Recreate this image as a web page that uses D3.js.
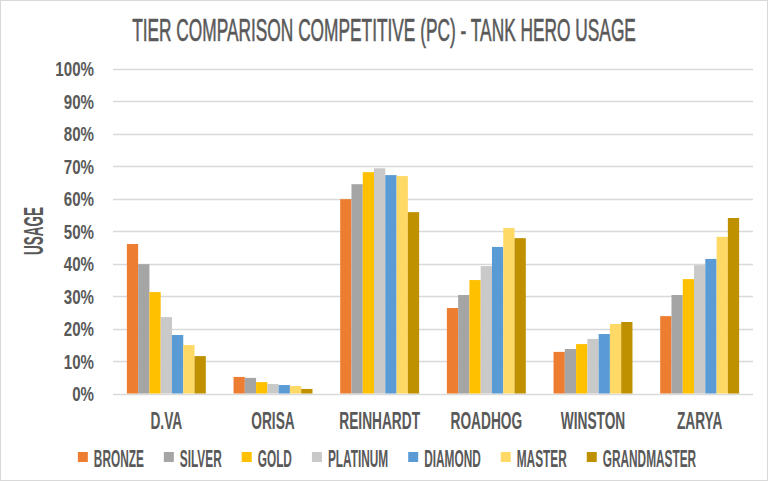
<!DOCTYPE html>
<html>
<head>
<meta charset="utf-8">
<script src="https://cdn.jsdelivr.net/npm/d3@7"></script>
<style>
  body { margin: 0; background: #fff; }
  text { font-family: "Liberation Sans", Arial, sans-serif; fill: #595959; }
</style>
</head>
<body>
<svg id="chart" width="768" height="481"></svg>
<script>
const heroes = ['D.VA', 'ORISA', 'REINHARDT', 'ROADHOG', 'WINSTON', 'ZARYA']
const tiers = ['BRONZE', 'SILVER', 'GOLD', 'PLATINUM', 'DIAMOND', 'MASTER', 'GRANDMASTER']
const tierColors = ['#ED7D31', '#A5A5A5', '#FFC000', '#C9C9C9', '#5B9BD5', '#FFD966', '#BF9000']
// usage % per tier, one array per hero
const dva       = [46.0, 39.8, 31.2, 23.5, 18.0, 14.9, 11.5]
const orisa     = [5.1, 4.8, 3.5, 2.9, 2.6, 2.3, 1.4]
const reinhardt = [59.8, 64.4, 68.1, 69.3, 67.2, 66.9, 55.8]
const roadhog   = [26.3, 30.3, 34.9, 39.2, 45.1, 50.9, 47.8]
const winston   = [12.8, 13.7, 15.2, 16.8, 18.3, 21.4, 22.0]
const zarya     = [23.8, 30.3, 35.2, 39.5, 41.4, 48.2, 54.0]
const yTicks = [0, 10, 20, 30, 40, 50, 60, 70, 80, 90, 100]

const usage = [dva, orisa, reinhardt, roadhog, winston, zarya]
const data = heroes.map((h, i) => ({hero: h, values: usage[i]}))

const svg = d3.select('#chart')
const W = 768, H = 481
const margin = {left: 113, right: 15, top: 68.5, bottom: 87.5}

svg.append('rect')
    .attr('x', 0.5).attr('y', 0.5)
    .attr('width', W - 1).attr('height', H - 1)
    .attr('fill', '#fff').attr('stroke', '#d9d9d9')

const x = d3.scaleBand()
    .domain(heroes)
    .range([margin.left, W - margin.right])
    .paddingInner(0.26)
    .paddingOuter(0.13)

const xTier = d3.scaleBand()
    .domain(tiers)
    .range([0, x.bandwidth()])

const y = d3.scaleLinear()
    .domain([0, 100])
    .range([H - margin.bottom, margin.top])

const color = d3.scaleOrdinal().domain(tiers).range(tierColors)

// squeeze text horizontally to mimic the condensed title font
const squeeze = (sel, k) => sel.each(function(){
    const t = d3.select(this)
    const tx = +t.attr('x'), ty = +t.attr('y')
    t.attr('transform', `translate(${tx},${ty}) scale(${k},1) translate(${-tx},${-ty})`)
})

// gridlines
svg.append('g')
    .selectAll('line')
    .data(yTicks)
    .join('line')
    .attr('x1', margin.left).attr('x2', W - margin.right)
    .attr('y1', d => Math.round(y(d)) + 0.5).attr('y2', d => Math.round(y(d)) + 0.5)
    .attr('stroke', '#d9d9d9').attr('stroke-width', 1.3)

// y tick labels
svg.append('g')
    .selectAll('text')
    .data(yTicks)
    .join('text')
    .attr('x', 94)
    .attr('y', d => y(d) + 8)
    .attr('text-anchor', 'end')
    .style('font-size', '21px')
    .style('font-weight', 'bold')
    .text(d => d + '%')
    .call(squeeze, 0.72)

// bars
svg.append('g')
    .selectAll('g')
    .data(data)
    .join('g')
    .attr('transform', d => `translate(${x(d.hero)},0)`)
    .selectAll('rect')
    .data(d => d.values.map((v, i) => ({tier: tiers[i], v})))
    .join('rect')
    .attr('x', d => xTier(d.tier))
    .attr('width', xTier.bandwidth())
    .attr('y', d => y(d.v))
    .attr('height', d => y(0) - y(d.v))
    .attr('fill', d => color(d.tier))

// category labels
svg.append('g')
    .selectAll('text')
    .data(heroes)
    .join('text')
    .attr('x', d => x(d) + x.bandwidth() / 2)
    .attr('y', 429.5)
    .attr('text-anchor', 'middle')
    .style('font-size', '24.5px')
    .style('font-weight', 'bold')
    .text(d => d)
    .call(squeeze, 0.56)

// title
svg.append('text')
    .attr('x', 384)
    .attr('y', 40.7)
    .attr('text-anchor', 'middle')
    .style('font-size', '31.3px')
    .style('stroke', '#595959').style('stroke-width', 0.6)
    .text('TIER COMPARISON COMPETITIVE (PC) - TANK HERO USAGE')
    .call(squeeze, 0.553)

// axis title
svg.append('text')
    .attr('transform', 'translate(43,231) rotate(-90) scale(0.48,1)')
    .attr('text-anchor', 'middle')
    .style('font-size', '28px')
    .style('font-weight', 'bold')
    .text('USAGE')

// legend
const legend = svg.append('g')
const items = legend.selectAll('g')
    .data(tiers)
    .join('g')
items.append('rect')
    .attr('width', 10).attr('height', 10)
    .attr('y', 452)
    .attr('fill', d => color(d))
items.append('text')
    .attr('x', 16)
    .attr('y', 467)
    .style('font-size', '23.7px')
    .style('font-weight', 'bold')
    .text(d => d)
    .call(squeeze, 0.5)

let cursor = 0
items.each(function(){
    const g = d3.select(this)
    const w = g.select('text').node().getComputedTextLength() * 0.5
    g.attr('transform', `translate(${cursor},0)`)
    cursor += 16 + w + 20
})
const total = cursor - 20
legend.attr('transform', `translate(${387 - total / 2},0)`)
</script>
</body>
</html>
